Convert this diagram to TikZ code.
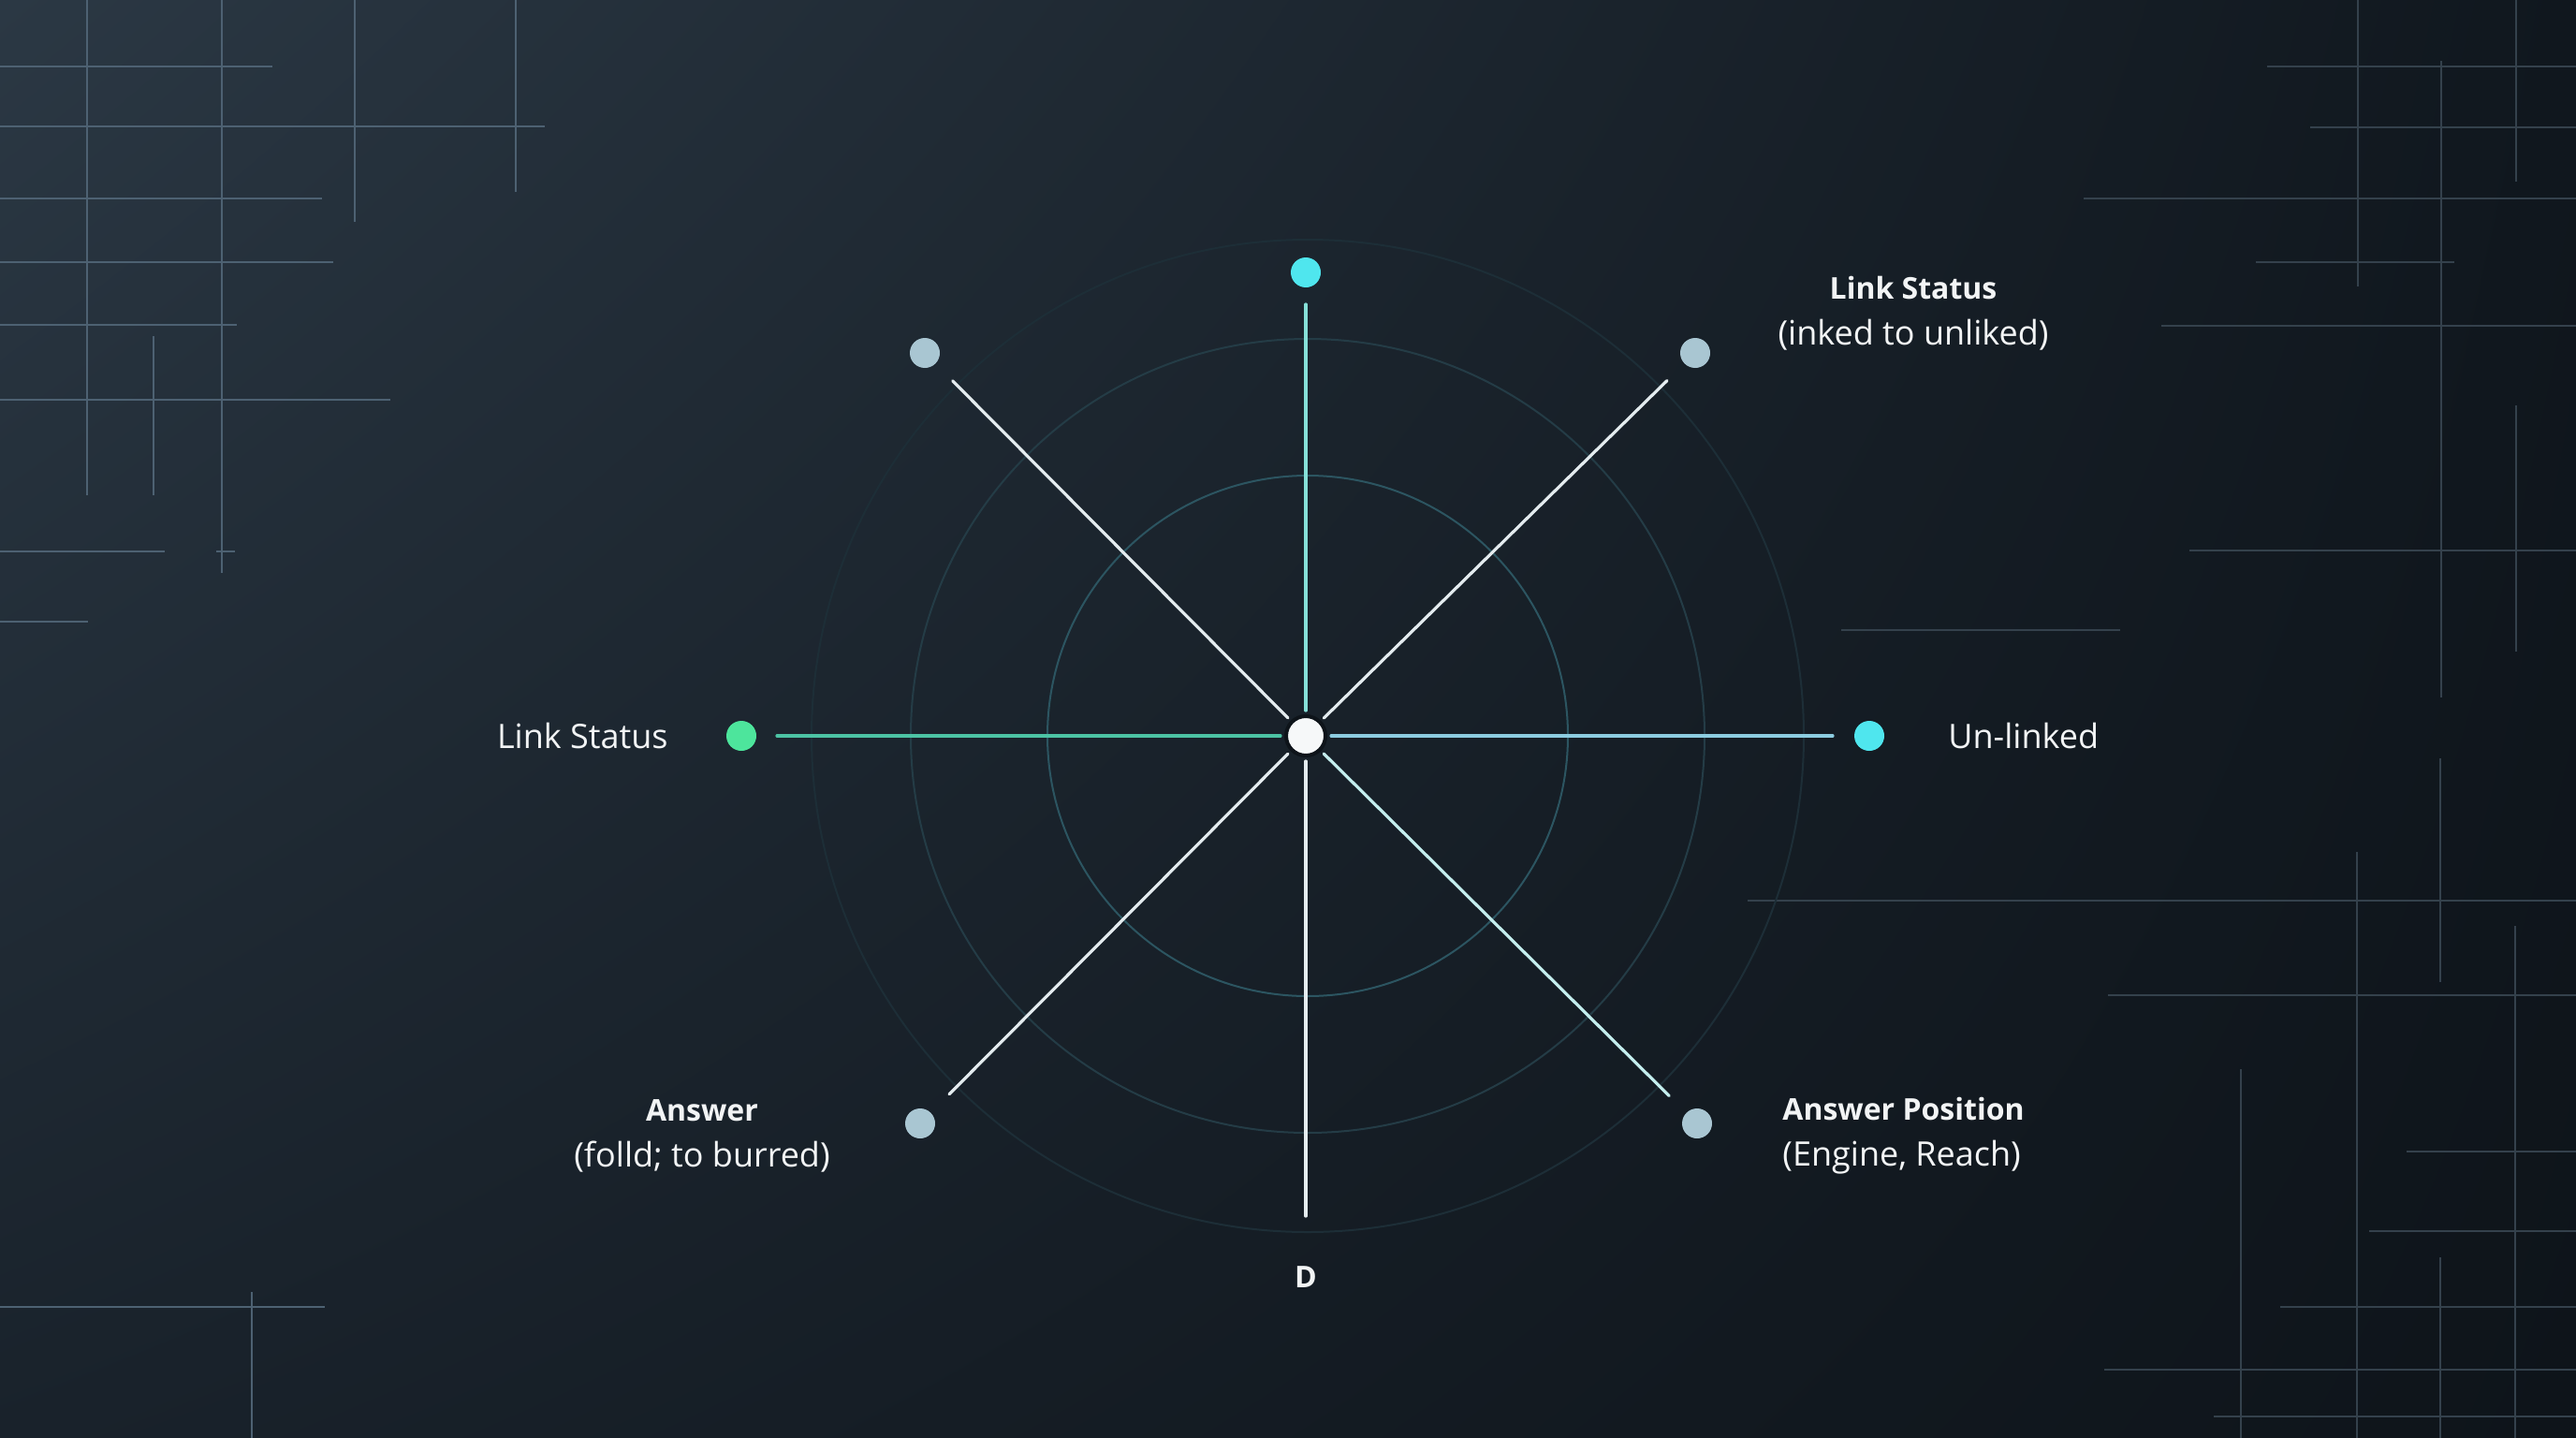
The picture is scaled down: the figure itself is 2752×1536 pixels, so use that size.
\documentclass[tikz,border=0pt]{standalone}
\usepackage{fontspec}
\setmainfont{Open Sans}
\usetikzlibrary{shadings}
\definecolor{bgUL}{HTML}{2B3844}
\definecolor{bgUR}{HTML}{10171E}
\definecolor{bgLL}{HTML}{19222B}
\definecolor{bgLR}{HTML}{0E141A}
\definecolor{gridL}{HTML}{4D6172}
\definecolor{gridR}{HTML}{34414C}
\definecolor{ringA}{HTML}{2C5561}
\definecolor{ringB}{HTML}{243C46}
\definecolor{ringC}{HTML}{1D2E37}
\definecolor{txt}{HTML}{F2F4F5}
\definecolor{rayW}{HTML}{E4ECEF}
\definecolor{rayUp}{HTML}{86E0D8}
\definecolor{rayL}{HTML}{4CC3A4}
\definecolor{rayR}{HTML}{8CCCE0}
\definecolor{rayBR}{HTML}{C4EEEE}
\definecolor{dotCyan}{HTML}{4FE6EE}
\definecolor{dotGreen}{HTML}{4DE59C}
\definecolor{dotGray}{HTML}{A9C6D2}
\definecolor{hubW}{HTML}{F6F8F9}
\newcommand{\hd}[1]{{\fontsize{16}{24.5}\selectfont\bfseries #1}}
\begin{document}
\begin{tikzpicture}[x=0.5pt,y=-0.5pt,
  dot/.style={circle,inner sep=0pt,outer sep=0pt,minimum size=16pt},
  ray/.style={line width=1.6pt,line cap=round},
  ringline/.style={line width=1pt},
  gl/.style={line width=1.1pt,color=gridL},
  gr/.style={line width=1.1pt,color=gridR},
  lbl/.style={text=txt,font=\fontsize{18}{24.5}\selectfont,inner sep=0pt},
]
\useasboundingbox (0,0) rectangle (2752,1536);
\shade[upper left=bgUL,upper right=bgUR,lower left=bgLL,lower right=bgLR] (0,0) rectangle (2752,1536);

% corner grid lines, top left
\draw[gl] (93,0) -- (93,529) (237,0) -- (237,612) (379,0) -- (379,237)
  (551,0) -- (551,205) (164,359) -- (164,529);
\draw[gl] (0,71) -- (291,71) (0,135) -- (582,135) (0,212) -- (344,212)
  (0,280) -- (356,280) (0,347) -- (253,347) (0,427) -- (417,427)
  (0,589) -- (176,589) (231,589) -- (251,589) (0,664) -- (94,664);
% bottom left
\draw[gl] (0,1396) -- (347,1396) (269,1380) -- (269,1536);
% right side
\draw[gr] (2519,0) -- (2519,306) (2608,65) -- (2608,745) (2688,0) -- (2688,194)
  (2688,433) -- (2688,696) (2607,810) -- (2607,1049) (2518,910) -- (2518,1536)
  (2687,989) -- (2687,1536) (2394,1142) -- (2394,1536) (2607,1343) -- (2607,1536);
\draw[gr] (2422,71) -- (2752,71) (2468,136) -- (2752,136) (2226,212) -- (2752,212)
  (2410,280) -- (2622,280) (2309,348) -- (2752,348) (2339,588) -- (2752,588)
  (1967,673) -- (2265,673) (1867,962) -- (2752,962) (2252,1063) -- (2752,1063)
  (2571,1230) -- (2752,1230) (2531,1315) -- (2752,1315) (2436,1396) -- (2752,1396)
  (2248,1463) -- (2752,1463) (2365,1513) -- (2752,1513);

% concentric rings
\draw[ringline,ringC] (1397,786) circle[radius=265pt];
\draw[ringline,ringB] (1397,786) circle[radius=212pt];
\draw[ringline,ringA] (1397,786) circle[radius=139pt];

% nodes
\node[circle,fill=hubW,draw=bgLR,line width=2pt,minimum size=21pt,inner sep=0pt,outer sep=0pt] (hub) at (1395,786) {};
\node[dot,fill=dotCyan] (top) at (1395,291) {};
\node[dot,fill=dotGray] (tl) at (988,377) {};
\node[dot,fill=dotGray] (tr) at (1811,377) {};
\node[dot,fill=dotGreen] (left) at (792,786) {};
\node[dot,fill=dotCyan] (right) at (1997,786) {};
\node[dot,fill=dotGray] (bl) at (983,1200) {};
\node[dot,fill=dotGray] (br) at (1813,1200) {};
\coordinate (bottom) at (1395,1299);

% rays
\draw[ray,rayUp,shorten <=3pt,shorten >=9pt] (hub) -- (top);
\draw[ray,rayL,shorten <=3pt,shorten >=11pt] (hub) -- (left);
\draw[ray,rayR,shorten <=3pt,shorten >=11.5pt] (hub) -- (right);
\draw[ray,rayW,shorten <=3pt] (hub) -- (bottom);
\draw[ray,rayW,shorten <=3pt,shorten >=13pt] (hub) -- (tl);
\draw[ray,rayW,shorten <=3pt,shorten >=13pt] (hub) -- (tr);
\draw[ray,rayW,shorten <=3pt,shorten >=14pt] (hub) -- (bl);
\draw[ray,rayBR,shorten <=3pt,shorten >=13pt] (hub) -- (br);

% labels
\node[lbl,align=center] (trlbl) at (2044,335) {\hd{Link Status}\\(inked to unliked)};
\node[lbl,anchor=east] (leftlbl) at (714,786) {Link Status};
\node[lbl,anchor=west] (rightlbl) at (2081,786) {Un-linked};
\node[lbl,align=center] (bllbl) at (750,1213) {\hd{Answer}\\(folld; to burred)};
\node[lbl,align=left,anchor=west] (brlbl) at (1904,1213) {\hd{Answer Position}\\(Engine, Reach)};
\node[lbl] (dlbl) at (1395,1364) {\hd{D}};
\end{tikzpicture}
\end{document}
